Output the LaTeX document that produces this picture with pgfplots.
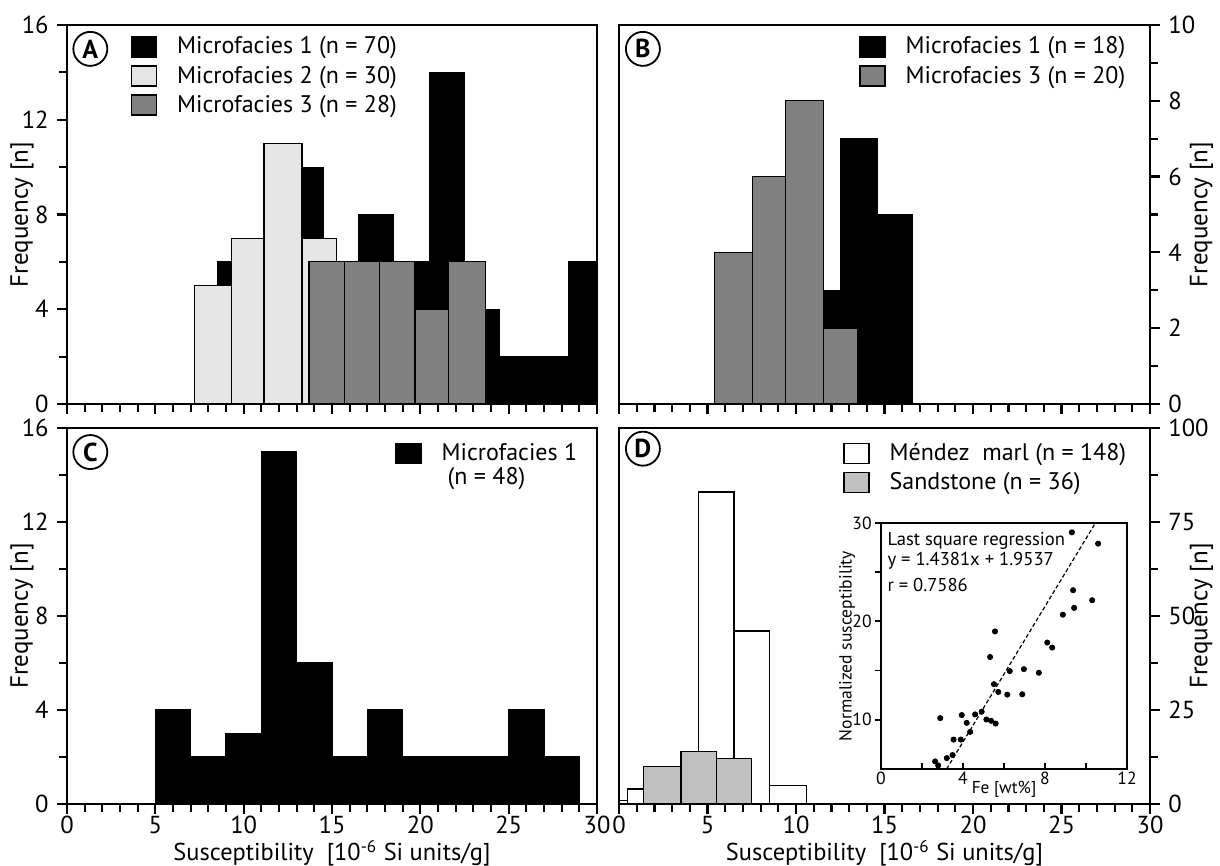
\documentclass[border=0pt]{standalone}
\usepackage{pgfplots}
\pgfplotsset{compat=1.18}
\usepackage{fontspec}
\setmainfont{PT Sans}
\definecolor{lgray}{HTML}{E6E6E6}
\definecolor{dgray}{HTML}{808080}
\definecolor{sgray}{HTML}{C0C0C0}
\tikzset{circ/.style={circle, draw, line width=0.9pt, minimum size=17pt, inner sep=0pt, font=\bfseries\fontsize{13}{13}\selectfont}}
\pgfplotsset{
  sqlegend/.style={legend image code/.code={\draw[##1, line width=0.6pt] (0pt,-5pt) rectangle (12.5pt,5pt);}},
  hbar/.style={ybar interval, draw=black, line width=0.6pt, sqlegend},
  panel/.style={
    scale only axis,
    xmin=0, xmax=30,
    xtick={0,5,...,30},
    minor x tick num=4,
    tick align=outside,
    xtick pos=left,
    major tick length=5pt,
    minor tick length=3.8pt,
    axis line style={line width=1.3pt},
    major tick style={line width=1.1pt, black},
    minor tick style={line width=1.1pt, black},
    tick label style={font=\fontsize{12.3}{14}\selectfont, inner sep=1pt},
    xticklabel shift=0pt, yticklabel shift=3pt,
    label style={font=\fontsize{12.5}{14}\selectfont, inner sep=0pt},
    xlabel style={font=\fontsize{12.2}{14}\selectfont, at={(axis description cs:0.5,-0.131)}, anchor=center},
    /pgf/number format/assume math mode=true,
    legend cell align=left,
    legend style={draw=none, fill=none, inner sep=0pt, font=\fontsize{12}{13.5}\selectfont, nodes={inner sep=1pt}, row sep=2.5pt, /tikz/every odd column/.append style={column sep=9pt}},
  },
  leftlab/.style={ylabel style={at={(axis description cs:-0.085,0.5)}, anchor=center}},
  rightlab/.style={ylabel style={at={(axis description cs:1.097,0.5)}, anchor=center}},
}
\begin{document}
\begin{tikzpicture}
\path[use as bounding box] (0pt,0pt) rectangle (610pt,433pt);

% ---------------- Panel A
\begin{axis}[panel, leftlab, at={(33.5pt,231pt)}, anchor=south west, width=265pt, height=189.5pt,
  ymin=0, ymax=16, ytick={0,4,8,12,16}, minor ytick={2,6,10,14}, ytick pos=left,
  xticklabels={}, ylabel={Frequency [n]},
  legend style={at={(0.12,0.975)}, anchor=north west}]
\addplot[hbar, fill=black] coordinates {(8.5,6) (10.5,6) (12.5,10) (14.5,6) (16.5,8) (18.5,6) (20.5,14) (22.5,4) (24.5,2) (26.5,2) (28.4,6) (30.5,0)};
\addlegendentry{Microfacies 1 (n = 70)}
\addplot[hbar, fill=lgray] coordinates {(7.2,5) (9.3,7) (11.15,11) (13.3,7) (15.25,0)};
\addlegendentry{Microfacies 2 (n = 30)}
\addplot[hbar, fill=dgray] coordinates {(13.7,6) (15.7,6) (17.7,6) (19.7,4) (21.6,6) (23.7,0)};
\addlegendentry{Microfacies 3 (n = 28)}
\node[circ] at (rel axis cs:0.044,0.937) {A};
\end{axis}

% ---------------- Panel B
\begin{axis}[panel, rightlab, at={(309.5pt,231pt)}, anchor=south west, width=265.5pt, height=189.5pt,
  ymin=0, ymax=10, ytick={0,2,...,10}, minor y tick num=1, ytick pos=right, yticklabel pos=right,
  xticklabels={}, ylabel={Frequency [n]},
  legend style={at={(0.452,0.975)}, anchor=north west}]
\addplot[hbar, fill=black] coordinates {(8.5,3) (10.5,3) (12.5,7) (14.6,5) (16.6,0)};
\addlegendentry{Microfacies 1 (n = 18)}
\addplot[hbar, fill=dgray] coordinates {(5.4,4) (7.55,6) (9.4,8) (11.55,2) (13.5,0)};
\addlegendentry{Microfacies 3 (n = 20)}
\node[circ] at (rel axis cs:0.045,0.937) {B};
\end{axis}

% ---------------- Panel C
\begin{axis}[panel, leftlab, at={(33.5pt,31pt)}, anchor=south west, width=265pt, height=188pt,
  ymin=0, ymax=16, ytick={0,4,8,12,16}, minor ytick={2,6,10,14}, ytick pos=left,
  ylabel={Frequency [n]}, xlabel={Susceptibility\ \ [10\textsuperscript{-6} Si units/g]},
  legend style={at={(0.619,0.965)}, anchor=north west, row sep=0pt}]
\addplot[hbar, fill=black] coordinates {(5,4) (7,2) (9,3) (11,15) (13,6) (15,2) (17,4) (19,2) (21,2) (23,2) (25,4) (27,2) (29,0)};
\addlegendentry{Microfacies 1}
\addlegendimage{empty legend}
\addlegendentry{\hspace{3pt}(n = 48)}
\node[circ] at (rel axis cs:0.044,0.936) {C};
\end{axis}

% ---------------- Panel D
\begin{axis}[panel, rightlab, at={(309.5pt,31pt)}, anchor=south west, width=265.5pt, height=188pt,
  ymin=0, ymax=100, ytick={0,25,...,100}, minor y tick num=1, ytick pos=right, yticklabel pos=right,
  ylabel={Frequency [n]}, xlabel={Susceptibility\ \ [10\textsuperscript{-6} Si units/g]},
  legend style={at={(0.422,0.965)}, anchor=north west}]
\addplot[hbar, fill=white] coordinates {(0,1) (0.5,4) (2.5,9) (4.5,83) (6.5,46) (8.5,5) (10.6,0)};
\addlegendentry{Méndez\ \ marl (n = 148)}
\addplot[hbar, fill=sgray] coordinates {(1.4,10) (3.5,14) (5.5,12) (7.5,0)};
\addlegendentry{Sandstone (n = 36)}
\node[circ] at (rel axis cs:0.045,0.945) {D};
\end{axis}

% ---------------- Inset
\begin{axis}[at={(440.5pt,48.5pt)}, anchor=south west, scale only axis, width=123pt, height=123pt,
  xmin=0, xmax=12, ymin=5, ymax=30,
  xtick={0,4,8,12}, minor xtick={2,6,10}, ytick={10,20,30}, minor ytick={15,25},
  xtick pos=left, ytick pos=left, xtick align=inside, ytick align=outside,
  major tick length=3pt, minor tick length=3pt,
  axis line style={line width=1pt},
  major tick style={line width=0.9pt, black}, minor tick style={line width=0.9pt, black},
  tick label style={font=\fontsize{8.8}{10}\selectfont, inner sep=1.5pt},
  /pgf/number format/assume math mode=true,
  xlabel={Fe [wt\%]}, ylabel={Normalized susceptibility},
  xlabel style={font=\fontsize{8.6}{10}\selectfont, inner sep=1pt, at={(axis description cs:0.50,0)}, anchor=north, yshift=-5pt},
  ylabel style={font=\fontsize{8.8}{10}\selectfont, inner sep=1pt, at={(axis description cs:-0.138,0.5)}, anchor=center},
  axis background/.style={fill=white}]
\addplot[dashed, line width=0.6pt, dash pattern=on 2pt off 1.2pt] coordinates {(3.2,5) (10.46,30)};
\addplot[only marks, mark=*, mark size=1.3pt, black] coordinates {
(10.59,27.9) (9.31,29.05) (9.37,23.17) (10.30,22.15) (9.42,21.37) (8.87,20.68) (5.56,18.98) (8.11,17.85)
(8.35,17.34) (5.32,16.38) (6.28,14.95) (6.97,15.15) (7.70,14.78) (5.51,13.62) (5.72,12.83) (6.16,12.56)
(6.89,12.59) (2.89,10.17) (3.94,10.48) (4.59,10.55) (4.91,10.82) (5.14,10.03) (5.37,9.90) (5.59,9.62)
(4.18,9.69) (4.35,8.77) (3.54,7.99) (3.89,7.99) (3.21,6.11) (3.49,6.42) (2.64,5.77) (2.79,5.36)};
\node[anchor=west, inner sep=0pt, font=\fontsize{9.3}{10}\selectfont] at (axis cs:0.3,28.2) {Last square regression};
\node[anchor=west, inner sep=0pt, font=\fontsize{9.3}{10}\selectfont] at (axis cs:0.3,26.2) {y = 1.4381x + 1.9537};
\node[anchor=west, inner sep=0pt, font=\fontsize{9.3}{10}\selectfont] at (axis cs:0.3,23.7) {r = 0.7586};
\end{axis}
\end{tikzpicture}
\end{document}
